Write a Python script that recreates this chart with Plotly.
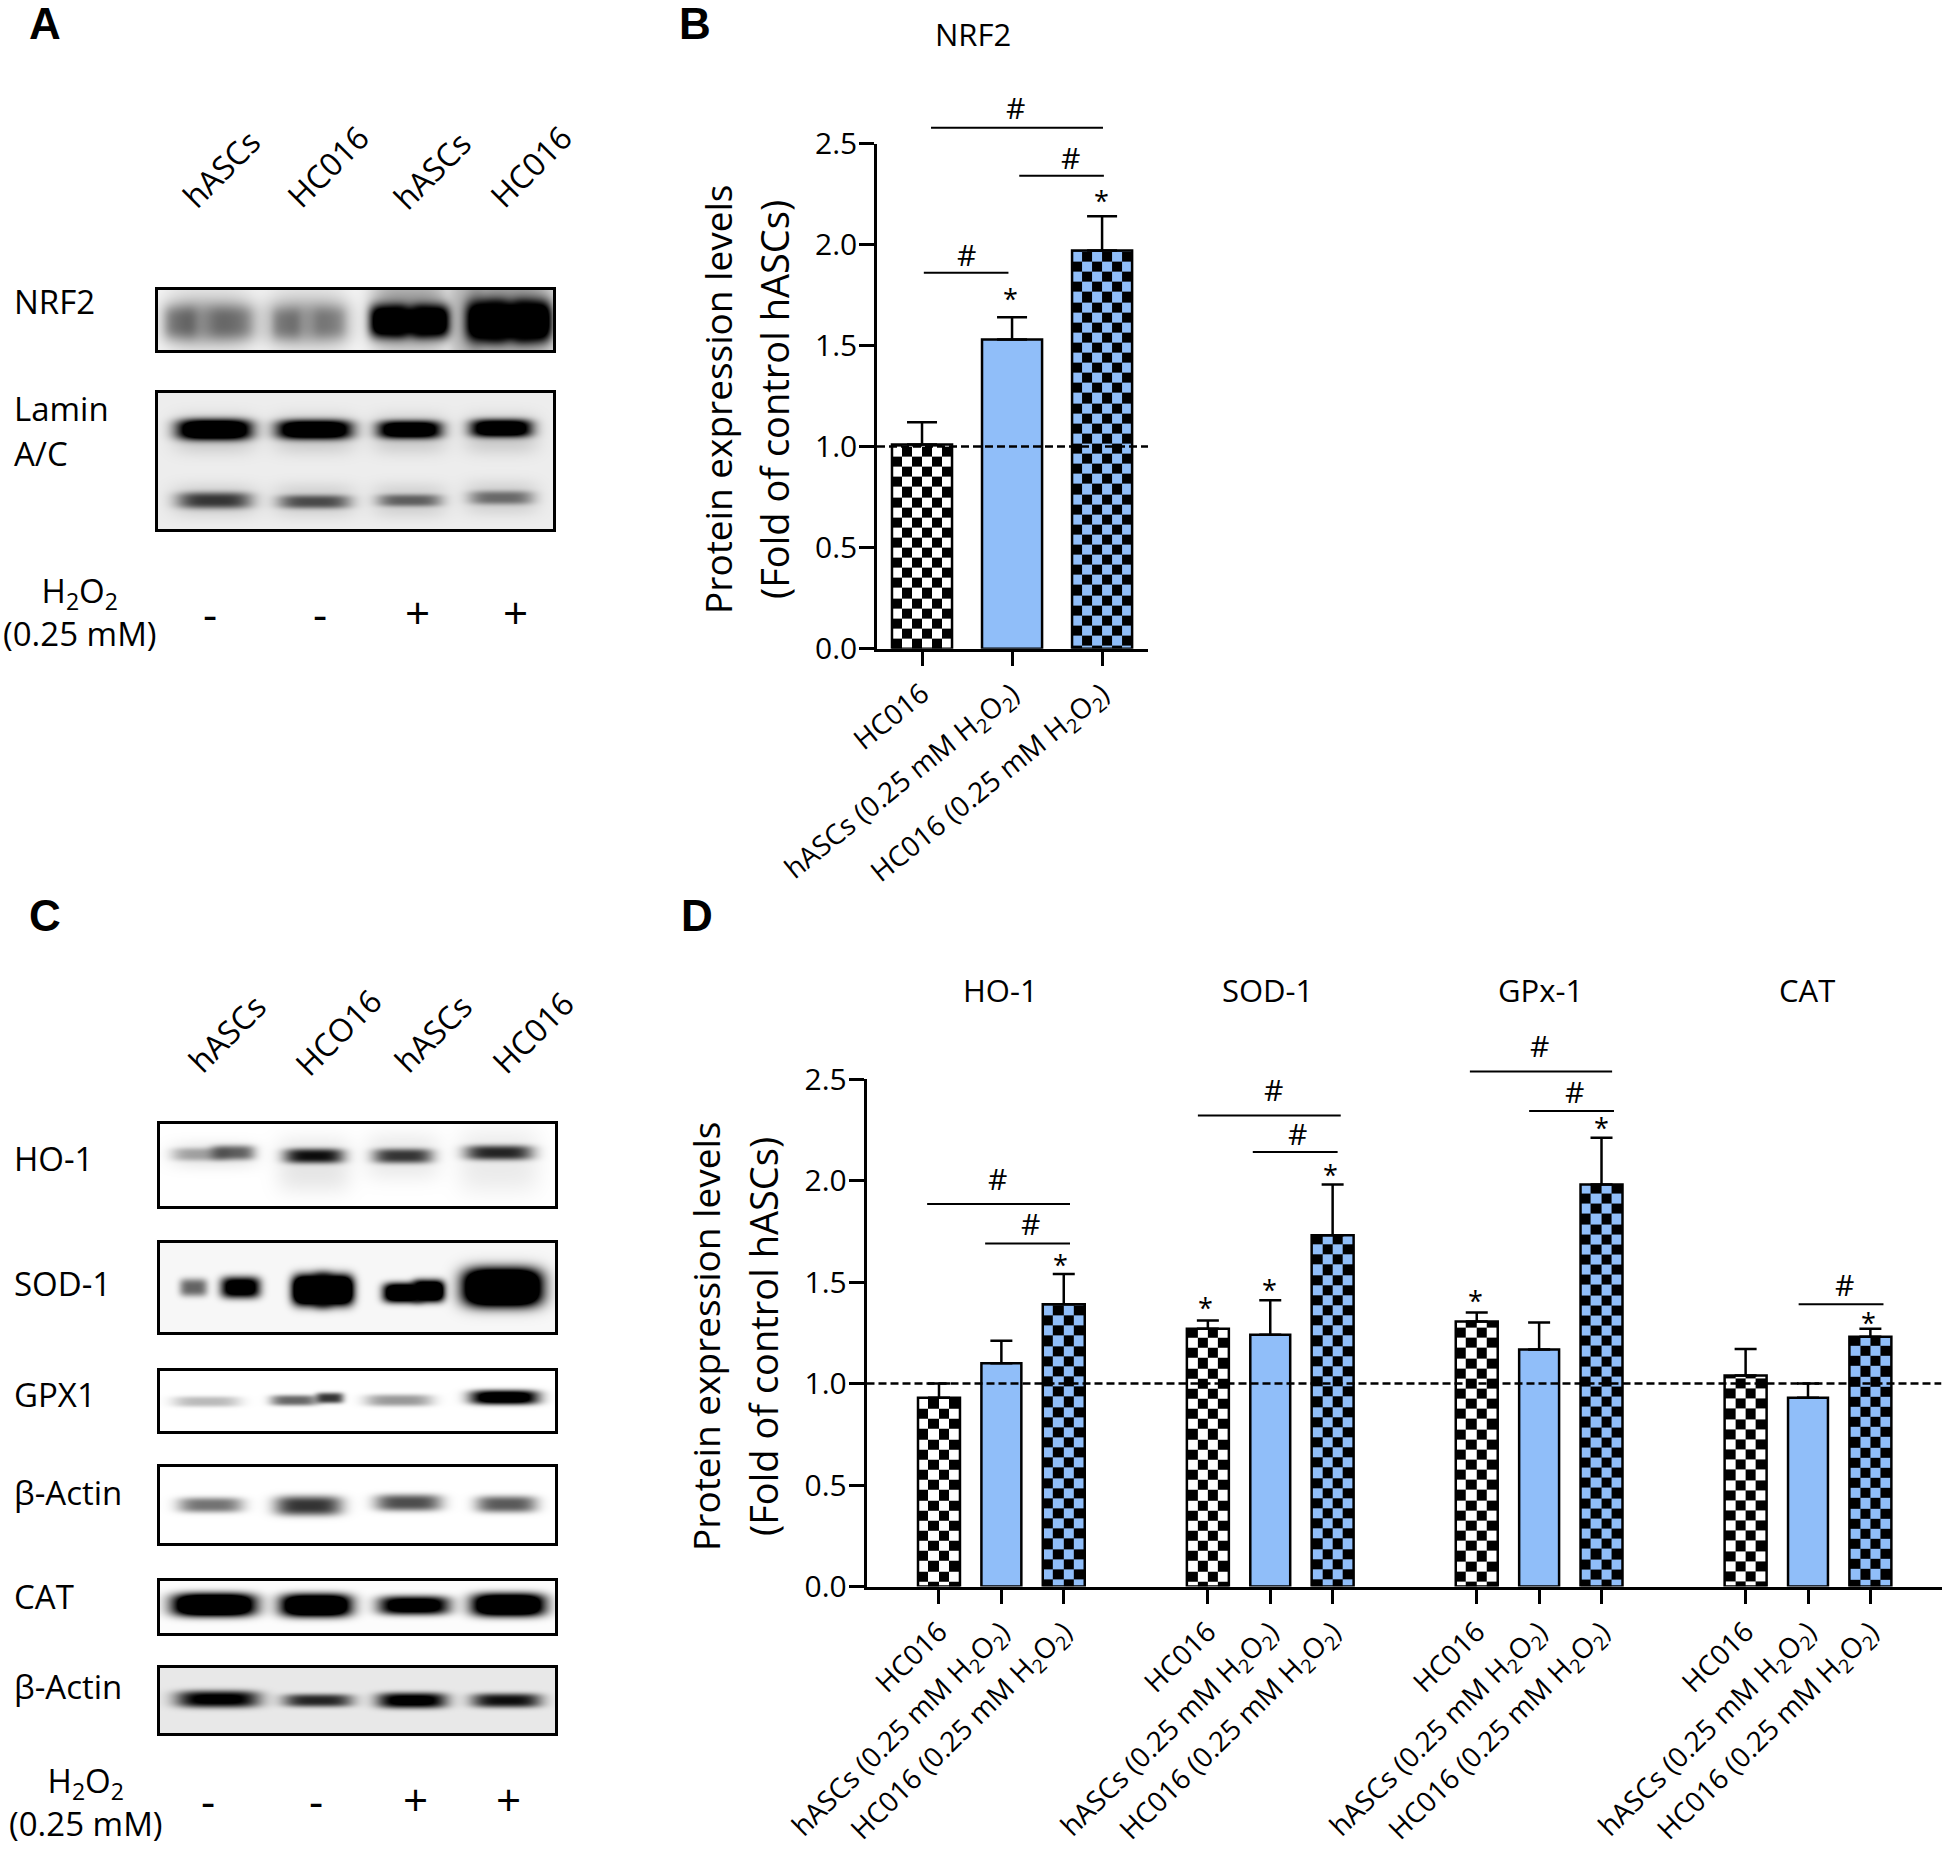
import numpy as np
import plotly.graph_objects as go

W, H = 1946, 1849
FONT = "Open Sans"
BLACK = "#000000"
BLUE = "#90BEF9"
LW = 2.5

# ---------- panel B data ----------
B_CATS = ["HC016", "hASCs (0.25 mM H<sub>2</sub>O<sub>2</sub>)", "HC016 (0.25 mM H<sub>2</sub>O<sub>2</sub>)"]
B_MEANS = [1.01, 1.53, 1.97]
B_TOPS = [1.12, 1.64, 2.14]
B_LINES = [(0.10, 2.01, 2.578), (1.08, 2.02, 2.34), (0.02, 0.96, 1.86)]
B_HASH = [(1.04, 2.68), (1.645, 2.43), (0.49, 1.95)]
B_STAR = [(0.98, 1.74), (1.99, 2.225)]

# ---------- panel D data ----------
D_GROUPS = ["HO-1", "SOD-1", "GPx-1", "CAT"]
D_MEANS = [[0.93, 1.10, 1.39], [1.27, 1.24, 1.73], [1.305, 1.167, 1.98], [1.04, 0.93, 1.23]]
D_TOPS = [[1.00, 1.21, 1.54], [1.31, 1.41, 1.98], [1.35, 1.30, 2.21], [1.17, 1.00, 1.27]]
D_GROUP_STEP = 4.31
D_LINES = [(-0.19, 2.10, 1.884), (0.74, 2.10, 1.69), (4.15, 6.44, 2.32), (5.03, 6.39, 2.14),
           (8.51, 10.79, 2.537), (9.46, 10.82, 2.342), (13.78, 15.14, 1.39)]
D_HASH = [(0.94, 2.01), (1.46, 1.79), (5.37, 2.45), (5.74, 2.23), (9.63, 2.664), (10.18, 2.44), (14.52, 1.49)]
D_STAR = [(1.94, 1.596), (4.28, 1.384), (5.30, 1.47), (6.28, 2.04), (8.60, 1.418), (10.62, 2.268), (14.90, 1.308)]

Y_TICKS = [0, 0.5, 1.0, 1.5, 2.0, 2.5]
Y_TITLE_LINES = ["Protein expression levels", "(Fold of control hASCs)"]

# ---------- blots: frame in page pixels, background, blobs (x, y, half-w, half-h, peak) in frame fractions ----------
BLOT_FRAMES = {
    "NRF2": (158, 553, 290, 350), "LAMIN": (158, 553, 393, 529),
    "HO1": (160, 555, 1124, 1206), "SOD1": (160, 555, 1243, 1332), "GPX1": (160, 555, 1371, 1431),
    "ACT1": (160, 555, 1467, 1543), "CAT": (160, 555, 1581, 1633), "ACT2": (160, 555, 1668, 1733),
}
BLOT_BG = {"NRF2": 0.03, "LAMIN": 0.07, "HO1": 0.0, "SOD1": 0.03, "GPX1": 0.0, "ACT1": 0.0, "CAT": 0.01, "ACT2": 0.09}
NRF2_BLOBS = [(0.13, 0.5, 0.115, 0.6, 0.16), (0.13, 0.54, 0.115, 0.34, 0.34), (0.057, 0.54, 0.04, 0.26, 0.3),
              (0.186, 0.54, 0.055, 0.26, 0.25),
              (0.38, 0.5, 0.105, 0.6, 0.16), (0.38, 0.54, 0.105, 0.34, 0.3), (0.325, 0.56, 0.035, 0.25, 0.25),
              (0.435, 0.54, 0.04, 0.25, 0.2),
              (0.78, 0.5, 0.04, 1.0, 0.18),
              (0.637, 0.42, 0.1, 0.62, 0.4), (0.587, 0.52, 0.05, 0.27, 1.6), (0.688, 0.52, 0.05, 0.27, 1.6),
              (0.637, 0.52, 0.06, 0.2, 2.0),
              (0.89, 0.45, 0.115, 0.75, 0.45), (0.836, 0.52, 0.055, 0.33, 1.8), (0.945, 0.52, 0.05, 0.33, 1.8),
              (0.89, 0.52, 0.07, 0.27, 2.5)]
LAMIN_BLOBS = [(0.143, 0.27, 0.093, 0.075, 1.7), (0.396, 0.27, 0.094, 0.07, 1.6), (0.637, 0.27, 0.08, 0.065, 1.5),
               (0.869, 0.26, 0.077, 0.065, 1.5),
               (0.143, 0.79, 0.093, 0.06, 0.75), (0.396, 0.80, 0.09, 0.05, 0.65), (0.637, 0.79, 0.08, 0.045, 0.55),
               (0.869, 0.77, 0.08, 0.05, 0.5),
               (0.143, 0.30, 0.105, 0.15, 0.15), (0.396, 0.30, 0.105, 0.15, 0.15), (0.637, 0.30, 0.095, 0.15, 0.15),
               (0.869, 0.30, 0.095, 0.15, 0.15),
               (0.143, 0.79, 0.11, 0.13, 0.12), (0.396, 0.79, 0.105, 0.13, 0.12), (0.637, 0.79, 0.095, 0.13, 0.12),
               (0.869, 0.77, 0.095, 0.13, 0.12)]
HO1_BLOBS = [(0.10, 0.37, 0.07, 0.08, 0.32), (0.185, 0.35, 0.055, 0.09, 0.6), (0.39, 0.39, 0.075, 0.09, 0.95),
             (0.615, 0.39, 0.075, 0.09, 0.78), (0.858, 0.35, 0.085, 0.09, 0.85),
             (0.137, 0.38, 0.11, 0.18, 0.08), (0.39, 0.5, 0.095, 0.34, 0.1), (0.615, 0.4, 0.095, 0.3, 0.08),
             (0.858, 0.45, 0.105, 0.4, 0.08)]
SOD1_BLOBS = [(0.085, 0.5, 0.035, 0.1, 0.6), (0.204, 0.5, 0.05, 0.12, 1.3),
              (0.385, 0.53, 0.05, 0.17, 2.0), (0.44, 0.53, 0.05, 0.17, 2.0),
              (0.615, 0.56, 0.05, 0.11, 1.6), (0.68, 0.54, 0.04, 0.12, 1.8),
              (0.867, 0.5, 0.095, 0.2, 2.5), (0.867, 0.5, 0.11, 0.27, 0.25)]
GPX1_BLOBS = [(0.118, 0.51, 0.085, 0.09, 0.27), (0.34, 0.49, 0.06, 0.09, 0.6), (0.43, 0.45, 0.035, 0.09, 0.8),
              (0.605, 0.49, 0.085, 0.1, 0.4), (0.872, 0.44, 0.087, 0.12, 1.3)]
ACT1_BLOBS = [(0.128, 0.5, 0.082, 0.1, 0.55), (0.376, 0.51, 0.085, 0.13, 0.8), (0.629, 0.47, 0.084, 0.11, 0.7),
              (0.877, 0.49, 0.077, 0.11, 0.65)]
CAT_BLOBS = [(0.137, 0.46, 0.105, 0.22, 1.8), (0.395, 0.47, 0.09, 0.22, 1.7), (0.643, 0.47, 0.09, 0.18, 1.3),
             (0.882, 0.46, 0.093, 0.22, 1.7)]
ACT2_BLOBS = [(0.147, 0.48, 0.105, 0.13, 1.1), (0.40, 0.5, 0.088, 0.1, 0.85), (0.638, 0.5, 0.088, 0.12, 1.15),
              (0.877, 0.5, 0.088, 0.11, 0.95)]
BLOT_BLOBS = {"NRF2": NRF2_BLOBS, "LAMIN": LAMIN_BLOBS, "HO1": HO1_BLOBS, "SOD1": SOD1_BLOBS, "GPX1": GPX1_BLOBS,
              "ACT1": ACT1_BLOBS, "CAT": CAT_BLOBS, "ACT2": ACT2_BLOBS}

# ---------- page texts ----------
LETTERS = [("A", 45, 24), ("B", 695, 24), ("C", 45, 915), ("D", 697, 915)]
DOSE = "H<sub>2</sub>O<sub>2</sub><br>(0.25 mM)"
LEFT_LABELS = [("NRF2", 12, 302), ("Lamin", 12, 409), ("A/C", 12, 453), ("HO-1", 12, 1158), ("SOD-1", 12, 1283),
               ("GPX1", 12, 1394), ("β-Actin", 12, 1492), ("CAT", 12, 1596), ("β-Actin", 12, 1686)]
LANE_LABELS = [("hASCs", 221, 169), ("HC016", 327, 166), ("hASCs", 431, 170), ("HC016", 530, 166),
               ("hASCs", 226, 1033), ("HCO16", 337, 1032), ("hASCs", 432, 1033), ("HC016", 532, 1032)]
DOSE_LABELS = [(DOSE, 80, 612), (DOSE, 86, 1802)]
SIGN_LABELS = [("-", 210, 613), ("-", 320, 613), ("+", 417, 612), ("+", 515, 612),
               ("-", 208, 1800), ("-", 316, 1800), ("+", 415, 1799), ("+", 508, 1799)]
TITLES = [("NRF2", 973, 34), ("HO-1", 1000, 990), ("SOD-1", 1267, 990), ("GPx-1", 1540, 990), ("CAT", 1807, 990)]
Y_TITLE_POS = [(717, 400), (774, 400), (705, 1337), (763, 1337)]
Y_TITLE_SIZES = [37, 38, 37, 38]


def fx(px):
    return px / W


def fy(py):
    return 1 - py / H


fig = go.Figure()
layout = dict(
    width=W, height=H, autosize=False, margin=dict(l=0, r=0, t=0, b=0, pad=0, autoexpand=False),
    paper_bgcolor="white", plot_bgcolor="rgba(0,0,0,0)", showlegend=False,
    font=dict(family=FONT, color=BLACK),
)
annotations = []


def checker(centers, tops, width, ncols, colour, first, phase, xa, ya):
    """Checker texture under a bar, cut to the bar's own height. `first` is the height of the lowest, partial row."""
    cs = [[0, colour], [0.5, colour], [0.5, BLACK], [1, BLACK]]
    for c, top in zip(centers, tops):
        xe = np.linspace(c - width / 2, c + width / 2, ncols + 1)
        ye = np.append(np.arange(first, top, 0.05), top)
        ye = np.insert(ye, 0, 0.0)
        n = len(ye) - 1
        z = [[(r + k + phase) % 2 for k in range(ncols)] for r in range(n)]
        fig.add_trace(go.Heatmap(x=xe, y=ye, z=z, zmin=0, zmax=1, colorscale=cs, showscale=False,
                                 hoverinfo="skip", xaxis=xa, yaxis=ya))


def add_bars(centers, means, tops, fill, cap, width, xa, ya):
    fig.add_trace(go.Bar(
        x=centers, y=means, width=width, marker=dict(color=fill, line=dict(color=BLACK, width=LW)),
        error_y=dict(type="data", symmetric=False, array=[t - m for t, m in zip(tops, means)],
                     arrayminus=[0] * len(means), color=BLACK, thickness=LW, width=cap),
        xaxis=xa, yaxis=ya))


def sig_marks(lines, hashes, stars, xa, ya):
    for x0, x1, y in lines:
        fig.add_trace(go.Scatter(x=[x0, x1], y=[y, y], mode="lines", line=dict(color=BLACK, width=2),
                                 hoverinfo="skip", xaxis=xa, yaxis=ya))
    for x, y in hashes:
        annotations.append(dict(text="#", x=x, y=y, xref=xa, yref=ya, showarrow=False,
                                font=dict(size=30, family=FONT, color=BLACK)))
    for x, y in stars:
        annotations.append(dict(text="*", x=x, y=y - 0.008, xref=xa, yref=ya, showarrow=False,
                                font=dict(size=27, family=FONT, color=BLACK)))


def style_axes(xname, yname, xdom, ydom, xrange_, tickvals, ticktext, angle):
    layout[xname] = dict(
        domain=[fx(xdom[0]), fx(xdom[1])], range=xrange_, anchor=yname.replace("yaxis", "y"),
        showgrid=False, zeroline=False, showline=True, linecolor=BLACK, linewidth=LW,
        ticks="outside", ticklen=15, tickwidth=LW, tickcolor=BLACK,
        tickmode="array", tickvals=tickvals, ticktext=ticktext, tickangle=angle,
        tickfont=dict(size=28, family=FONT, color=BLACK))
    layout[yname] = dict(
        domain=[fy(ydom[1]), fy(ydom[0])], range=[0, 2.5], anchor=xname.replace("xaxis", "x"),
        showgrid=False, zeroline=False, showline=True, linecolor=BLACK, linewidth=LW,
        ticks="outside", ticklen=15, tickwidth=LW, tickcolor=BLACK,
        tickmode="array", tickvals=Y_TICKS, tickformat=".1f", ticklabelstandoff=-4,
        tickfont=dict(size=30, family=FONT, color=BLACK))


def sig_axis(name, xa, ydom):
    """Hidden y axis on the same scale as the panel, running on to 3.0 so the brackets above 2.5 stay visible."""
    unit = (ydom[1] - ydom[0]) / 2.5
    layout[name] = dict(domain=[fy(ydom[1]), fy(ydom[1] - 3 * unit)], range=[0, 3], anchor=xa, visible=False)


DASH = dict(color=BLACK, width=2.5, dash="8px,4px")

# ----- panel B -----
B_X = [0, 1, 2]
B_RANGE = [-0.5, 2.51]
B_Y = (143.5, 648.7)
checker(B_X[:1], B_MEANS[:1], 0.667, 6, "#FFFFFF", 0.05, 1, "x", "y")
checker(B_X[2:], B_MEANS[2:], 0.667, 6, BLUE, 0.015, 1, "x", "y")
add_bars(B_X[:1], B_MEANS[:1], B_TOPS[:1], "rgba(255,255,255,0)", 15, 0.667, "x", "y")
add_bars(B_X[1:2], B_MEANS[1:2], B_TOPS[1:2], BLUE, 15, 0.667, "x", "y")
add_bars(B_X[2:], B_MEANS[2:], B_TOPS[2:], "rgba(144,190,249,0)", 15, 0.667, "x", "y")
fig.add_trace(go.Scatter(x=B_RANGE, y=[1, 1], mode="lines", line=DASH, hoverinfo="skip", xaxis="x", yaxis="y"))
sig_marks(B_LINES, B_HASH, B_STAR, "x", "y11")
style_axes("xaxis", "yaxis", (877, 1148), B_Y, B_RANGE, B_X, B_CATS, -39)
sig_axis("yaxis11", "x", B_Y)

# ----- panel D -----
D_RANGE = [-1.162, 16.07]
D_Y = (1079, 1586.5)
D_X = [[g * D_GROUP_STEP + i for g in range(4)] for i in range(3)]
D_M = [[D_MEANS[g][i] for g in range(4)] for i in range(3)]
D_T = [[D_TOPS[g][i] for g in range(4)] for i in range(3)]
checker(D_X[0], D_M[0], 0.673, 4, "#FFFFFF", 0.025, 0, "x2", "y2")
checker(D_X[2], D_M[2], 0.673, 4, BLUE, 0.035, 1, "x2", "y2")
add_bars(D_X[0], D_M[0], D_T[0], "rgba(255,255,255,0)", 11, 0.673, "x2", "y2")
add_bars(D_X[1], D_M[1], D_T[1], BLUE, 11, 0.64, "x2", "y2")
add_bars(D_X[2], D_M[2], D_T[2], "rgba(144,190,249,0)", 11, 0.673, "x2", "y2")
fig.add_trace(go.Scatter(x=D_RANGE, y=[1, 1], mode="lines", line=DASH, hoverinfo="skip", xaxis="x2", yaxis="y2"))
sig_marks(D_LINES, D_HASH, D_STAR, "x2", "y12")
d_vals = [g * D_GROUP_STEP + i for g in range(4) for i in range(3)]
d_text = B_CATS * 4
style_axes("xaxis2", "yaxis2", (866.5, 1941.5), D_Y, D_RANGE, d_vals, d_text, -44.5)
sig_axis("yaxis12", "x2", D_Y)

# ----- blots -----
for idx, (name, (x0, x1, y0, y1)) in enumerate(BLOT_FRAMES.items()):
    xa, ya = f"x{idx + 3}", f"y{idx + 3}"
    w, h = int(x1 - x0), int(y1 - y0)
    gx = (np.arange(w) + 0.5) / w
    gy = (np.arange(h) + 0.5) / h
    X, Y = np.meshgrid(gx, gy)
    clear = np.full(X.shape, 1.0 - BLOT_BG[name])
    for cx, cy, hw, hh, peak in BLOT_BLOBS[name]:
        d = peak * np.exp(-(np.abs(X - cx) / hw) ** 4) * np.exp(-(np.abs(Y - cy) / hh) ** 3)
        clear *= 1 - np.clip(d, 0, 1)
    fig.add_trace(go.Heatmap(x=gx, y=gy, z=np.round(1 - clear, 3), zmin=0, zmax=1,
                             colorscale=[[0, "#FFFFFF"], [1, "#000000"]], showscale=False, hoverinfo="skip",
                             xaxis=xa, yaxis=ya))
    frame = dict(showgrid=False, zeroline=False, showticklabels=False, ticks="", tickvals=[], showline=True,
                 mirror=True, linecolor=BLACK, linewidth=3)
    layout[f"xaxis{idx + 3}"] = dict(domain=[fx(x0), fx(x1)], range=[0, 1], anchor=ya, **frame)
    layout[f"yaxis{idx + 3}"] = dict(domain=[fy(y1), fy(y0)], range=[1, 0], anchor=xa, **frame)


# ----- page texts -----
def page_text(text, x, y, size, family=FONT, angle=0, xanchor="center", bold=False):
    annotations.append(dict(text=f"<b>{text}</b>" if bold else text, x=fx(x), y=fy(y), xref="paper", yref="paper",
                            showarrow=False, xanchor=xanchor, yanchor="middle", textangle=angle,
                            font=dict(size=size, family=family, color=BLACK)))


for t, x, y in LETTERS:
    page_text(t, x, y, 44, family="Liberation Sans", bold=True)
for t, x, y in TITLES:
    page_text(t, x, y, 31)
for t, x, y in LEFT_LABELS:
    page_text(t, x, y, 33, xanchor="left")
for t, x, y in LANE_LABELS:
    page_text(t, x, y, 32, angle=-45)
for t, x, y in DOSE_LABELS:
    page_text(t, x, y, 33)
for t, x, y in SIGN_LABELS:
    page_text(t, x, y, 44)
for t, (x, y), s in zip(Y_TITLE_LINES * 2, Y_TITLE_POS, Y_TITLE_SIZES):
    page_text(t, x, y, s, angle=-90)

layout["annotations"] = annotations
fig.update_layout(**layout)
fig.write_html("out.html", config=dict(displayModeBar=False),
               post_script="document.body.style.margin='0';document.body.style.overflow='hidden';")
